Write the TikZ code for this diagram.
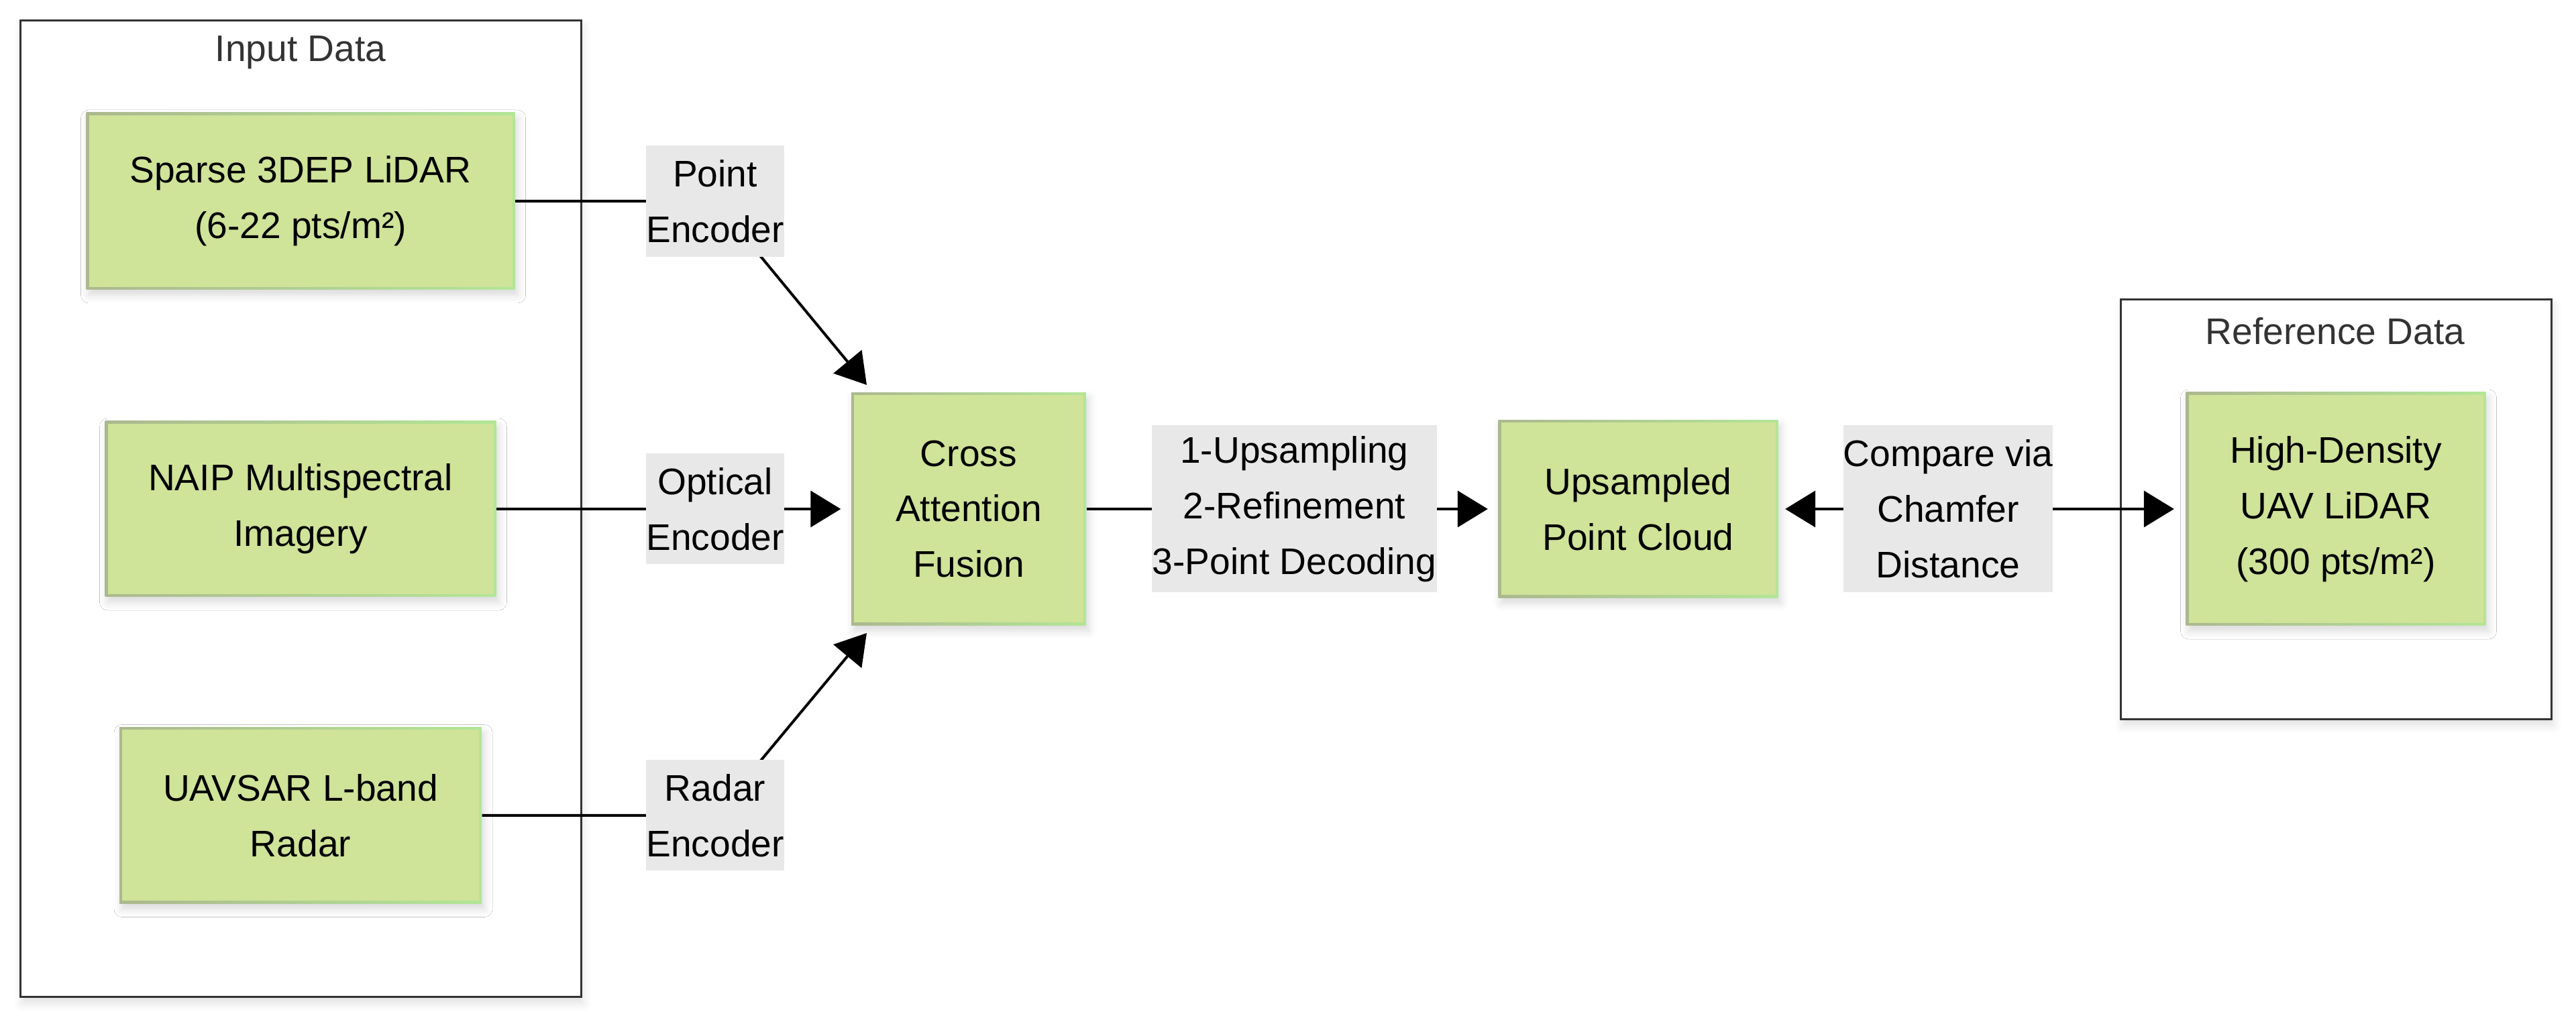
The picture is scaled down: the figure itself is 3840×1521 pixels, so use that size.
\documentclass[tikz,border=0pt]{standalone}
\usepackage{fontspec}
\setmainfont{Liberation Sans}
\usetikzlibrary{arrows.meta, calc, shadows.blur}

\definecolor{boxgreen}{RGB}{207,227,153}
\definecolor{bordleft}{RGB}{172,184,142}
\definecolor{bordright}{RGB}{178,230,150}
\definecolor{labelgray}{RGB}{232,232,232}
\definecolor{clusterline}{RGB}{51,51,51}

\pgfdeclarelayer{edges}
\pgfdeclarelayer{front}
\pgfsetlayers{main,edges,front}

\tikzset{
  every node/.style={font=\fontsize{15.7}{23.6}\selectfont, align=center, inner sep=0pt},
  cluster/.style={rectangle, draw=clusterline, line width=0.3mm, fill=white,
    blur shadow={shadow xshift=0.3mm, shadow yshift=-0.9mm, shadow blur radius=1.2mm, shadow opacity=12}},
  clustertitle/.style={text=clusterline},
  databox/.style={rectangle, left color=bordleft, right color=bordright,
    path picture={\fill[boxgreen] ($(path picture bounding box.south west)+(0.4mm,0.4mm)$)
      rectangle ($(path picture bounding box.north east)+(-0.4mm,-0.4mm)$);},
    blur shadow={shadow xshift=0.4mm, shadow yshift=-0.8mm, shadow blur radius=1.2mm, shadow opacity=15}},
  edgelabel/.style={rectangle, fill=labelgray},
  link/.style={line width=0.4mm, black},
  arrowhead/.style={-{Triangle[length=4.5mm,width=5.4mm]}}
}

\begin{document}
\begin{tikzpicture}[x=0.1mm, y=-0.1mm]
  \useasboundingbox (0,0) rectangle (3840,1521);

  % Cajas de grupo (entrada y referencia)
  \node[cluster, minimum width=83.6mm, minimum height=145.6mm] (inputgrp) at (448,759) {};
  \node[cluster, minimum width=64.2mm, minimum height=62.6mm] (refgrp) at (3482,760) {};
  \node[clustertitle] (inputtitle) at (448,78) {Input Data};
  \node[clustertitle] (reftitle) at (3481,494) {Reference Data};

  % Fuentes de datos
  \node[databox, minimum width=63.9mm, minimum height=26.4mm] (sparse) at (448,300) {Sparse 3DEP LiDAR\\(6-22 pts/m²)};
  \node[databox, minimum width=58.3mm, minimum height=26.2mm] (naip) at (448,759) {NAIP Multispectral\\Imagery};
  \node[databox, minimum width=54.0mm, minimum height=26.3mm] (uavsar) at (448,1216) {UAVSAR L-band\\Radar};

  % Fusión y salida
  \node[databox, minimum width=35mm, minimum height=34.7mm] (fusion) at (1444,759) {Cross\\Attention\\Fusion};
  \node[databox, minimum width=41.7mm, minimum height=26.5mm] (upsampled) at (2442,759) {Upsampled\\Point Cloud};
  \node[databox, minimum width=44.7mm, minimum height=34.8mm] (highdens) at (3482,759) {High-Density\\UAV LiDAR\\(300 pts/m²)};

  % Etiquetas de las aristas
  \begin{pgfonlayer}{front}
    \node[edgelabel, minimum width=20.6mm, minimum height=16.6mm] (penc) at (1066,300) {Point\\Encoder};
    \node[edgelabel, minimum width=20.6mm, minimum height=16.5mm] (openc) at (1066,759) {Optical\\Encoder};
    \node[edgelabel, minimum width=20.6mm, minimum height=16.5mm] (renc) at (1066,1216) {Radar\\Encoder};
    \node[edgelabel, minimum width=42.5mm, minimum height=24.9mm] (steps) at (1929.5,759) {1-Upsampling\\2-Refinement\\3-Point Decoding};
    \node[edgelabel, minimum width=31.2mm, minimum height=24.9mm] (compare) at (2904,759) {Compare via\\Chamfer\\Distance};
  \end{pgfonlayer}

  \coordinate (fusionin1) at (1292,574);
  \coordinate (fusionin3) at (1292,944);

  % Aristas
  \begin{pgfonlayer}{edges}
    \draw[link, arrowhead] (sparse.east) -- (penc.center) -- (fusionin1);
    \draw[link, arrowhead, shorten >=1.5mm] (naip.east) -- (fusion.west);
    \draw[link, arrowhead] (uavsar.east) -- (renc.center) -- (fusionin3);
    \draw[link, arrowhead, shorten >=1.5mm] (fusion.east) -- (upsampled.west);
    \draw[link, {Triangle[length=4.5mm,width=5.4mm]}-{Triangle[length=4.5mm,width=5.4mm]},
      shorten <=1mm, shorten >=1.7mm] (upsampled.east) -- (highdens.west);
  \end{pgfonlayer}
\end{tikzpicture}
\end{document}
